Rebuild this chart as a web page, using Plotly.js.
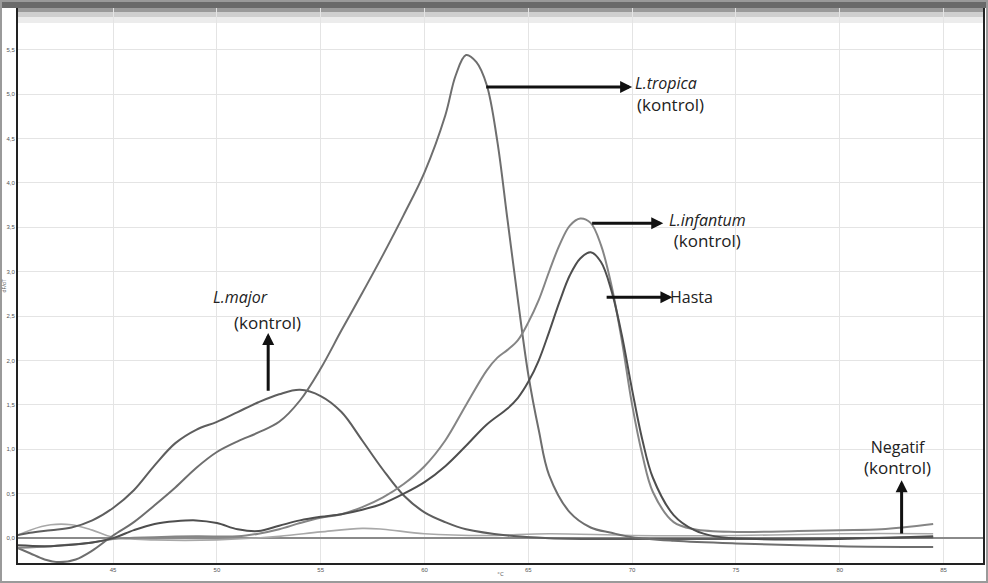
<!DOCTYPE html>
<html>
<head>
<meta charset="utf-8">
<script src="https://cdn.plot.ly/plotly-3.0.1.min.js"></script>
<style>
html,body{margin:0;padding:0;background:#fff;}
#chart{width:988px;height:583px;}
</style>
</head>
<body>
<div id="chart"></div>
<script>
// Temperatures (°C) and -dF/dT values
const tropicaT = [40.3,41,41.7,42.4,43.2,44,45,46,47,48,49,50,51,52,53,54,55,56,57,58,59,60,61,61.5,62,62.5,63,63.5,64,64.5,65,65.5,66,67,68,69,70,72,75,80,84.5];
const tropicaY = [-0.10,-0.17,-0.24,-0.27,-0.24,-0.14,0.03,0.18,0.37,0.57,0.79,0.97,1.09,1.19,1.31,1.55,1.91,2.34,2.76,3.19,3.64,4.12,4.76,5.21,5.44,5.36,5.10,4.48,3.58,2.68,1.84,1.22,0.71,0.29,0.12,0.06,0.01,-0.03,-0.06,-0.09,-0.10];

const majorT = [40.3,41,42,43,44,45,46,47,48,49,50,51,52,53,54,55,56,57,58,59,60,61,62,64,66,70,75,80,84.5];
const majorY = [0.03,0.06,0.09,0.12,0.20,0.34,0.54,0.82,1.07,1.22,1.31,1.42,1.53,1.62,1.67,1.60,1.42,1.10,0.77,0.48,0.29,0.18,0.10,0.03,0.00,-0.01,-0.01,0.00,0.01];

const infantumT = [40.3,42,44,45,47,49,51,52,53,54,55,56,57,58,59,60,61,62,63,63.5,64,64.5,65,65.5,66,66.5,67,67.5,68,68.5,69,69.5,70,70.5,71,72,73,75,78,80,82,84.5];
const infantumY = [-0.11,-0.09,-0.05,-0.01,0.01,0.02,0.02,0.05,0.10,0.17,0.23,0.27,0.35,0.46,0.61,0.81,1.10,1.50,1.89,2.03,2.12,2.23,2.43,2.68,3.00,3.30,3.52,3.60,3.55,3.30,2.85,2.23,1.50,0.93,0.52,0.18,0.10,0.07,0.08,0.09,0.10,0.16];

const hastaT = [40.3,42,44,45,46,47,48,49,50,51,52,53,54,55,56,57,58,59,60,61,62,63,64,64.5,65,65.5,66,66.5,67,67.5,68,68.5,69,69.5,70,70.5,71,72,73,74,76,80,84.5];
const hastaY = [-0.08,-0.09,-0.05,0.00,0.09,0.16,0.19,0.20,0.17,0.10,0.08,0.14,0.20,0.24,0.27,0.32,0.39,0.50,0.63,0.81,1.04,1.28,1.46,1.58,1.76,2.00,2.32,2.66,2.96,3.15,3.22,3.11,2.79,2.29,1.67,1.10,0.68,0.26,0.09,0.02,-0.01,-0.01,0.02];

const negatifT = [40.3,41,42,43,44,45,47,50,53,55,57,58,60,63,66,70,75,80,84.5];
const negatifY = [0.02,0.09,0.15,0.15,0.09,0.01,-0.02,-0.02,0.02,0.07,0.11,0.10,0.05,0.03,0.05,0.03,0.03,0.05,0.05];

const xTicks = [45,50,55,60,65,70,75,80,85];
const yTicks = [0,0.5,1,1.5,2,2.5,3,3.5,4,4.5,5,5.5];
const yTickText = ['0,0','0,5','1,0','1,5','2,0','2,5','3,0','3,5','4,0','4,5','5,0','5,5'];

function line(x, y, color, w) {
  return {x: x, y: y, type: 'scatter', mode: 'lines', line: {color: color, width: w, shape: 'spline', smoothing: 1}, hoverinfo: 'skip', showlegend: false};
}

const data = [
  line(negatifT, negatifY, '#a8a8a8', 1.6),
  line(majorT, majorY, '#5e5e5e', 2),
  line(tropicaT, tropicaY, '#6e6e6e', 2),
  line(infantumT, infantumY, '#858585', 2),
  line(hastaT, hastaY, '#4e4e4e', 2)
];

const txtFont = {family: 'Open Sans, Arial, sans-serif', size: 16, color: '#222'};
const K = "<span style='font-size:17px'>(kontrol)</span>";
function label(x, y, text) {
  return {x: x, y: y, xref: 'x', yref: 'y', text: text, showarrow: false, font: txtFont, xanchor: 'center', yanchor: 'middle', align: 'center'};
}
function arrow(x, y, ax, ay) {
  return {x: x, y: y, ax: ax, ay: ay, xref: 'x', yref: 'y', axref: 'x', ayref: 'y', text: '', showarrow: true, arrowhead: 2, arrowsize: 0.8, arrowwidth: 3, arrowcolor: '#111'};
}

const annotations = [
  arrow(70.0, 5.08, 62.9, 5.08),
  label(71.62, 5.12, '<i>L.tropica</i>'),
  label(71.86, 4.88, K),
  arrow(71.5, 3.547, 68.0, 3.547),
  label(73.65, 3.46, '<i>L.infantum</i><br>' + K),
  arrow(71.94, 2.714, 68.7, 2.714),
  label(72.85, 2.71, 'Hasta'),
  arrow(52.47, 2.31, 52.47, 1.644),
  label(51.12, 2.71, '<i>L.major</i>'),
  label(52.42, 2.43, K),
  arrow(82.98, 0.653, 82.98, 0.034),
  label(82.80, 0.91, 'Negatif<br>' + K),
  {xref: 'paper', yref: 'paper', x: -15/965, y: 0.5, text: 'dF/dT', textangle: -90, showarrow: false, font: {size: 5, color: '#555'}, xanchor: 'center', yanchor: 'middle'}
];

const shapes = [
  {type: 'rect', xref: 'paper', yref: 'paper', x0: -18/965, x1: 1 + 5/965, y0: 1, y1: 1 + 8/555, fillcolor: '#6a6a6a', line: {width: 0}, layer: 'above'},
  {type: 'rect', xref: 'paper', yref: 'paper', x0: 0, x1: 1, y0: 1 - 4/555, y1: 1, fillcolor: '#9a9a9a', line: {width: 0}, layer: 'below'},
  {type: 'rect', xref: 'paper', yref: 'paper', x0: 0, x1: 1, y0: 1 - 9/555, y1: 1 - 4/555, fillcolor: '#cfcfcf', line: {width: 0}, layer: 'below'},
  {type: 'rect', xref: 'paper', yref: 'paper', x0: 0, x1: 1, y0: 1 - 15/555, y1: 1 - 9/555, fillcolor: '#ececec', line: {width: 0}, layer: 'below'},
  {type: 'rect', xref: 'paper', yref: 'paper', x0: -17/965, x1: 1 + 4/965, y0: -19/555, y1: 1 + 7/555, fillcolor: 'rgba(0,0,0,0)', line: {color: '#9a9a9a', width: 2}, layer: 'above'}
];

const layout = {
  width: 988, height: 583,
  margin: {l: 18, r: 5, t: 8, b: 20},
  paper_bgcolor: '#ffffff', plot_bgcolor: '#ffffff',
  xaxis: {
    range: [40.42, 86.9], tickvals: xTicks, ticks: '', showgrid: true, gridcolor: '#e4e4e4', gridwidth: 1,
    showline: true, linecolor: '#222', linewidth: 2, mirror: true, zeroline: false,
    tickfont: {size: 6, color: '#555', family: 'Arial, sans-serif'},
    title: {text: '°C', font: {size: 6, color: '#555'}, standoff: 0}
  },
  yaxis: {
    range: [-0.28, 5.97], tickvals: yTicks, ticktext: yTickText, ticks: '', showgrid: true, gridcolor: '#e4e4e4', gridwidth: 1,
    showline: true, linecolor: '#222', linewidth: 2, mirror: true,
    zeroline: true, zerolinecolor: '#8a8a8a', zerolinewidth: 2.5,
    tickfont: {size: 6, color: '#555', family: 'Arial, sans-serif'}
  },
  annotations: annotations,
  shapes: shapes,
  showlegend: false
};

Plotly.newPlot('chart', data, layout, {displayModeBar: false, staticPlot: true});
</script>
</body>
</html>
